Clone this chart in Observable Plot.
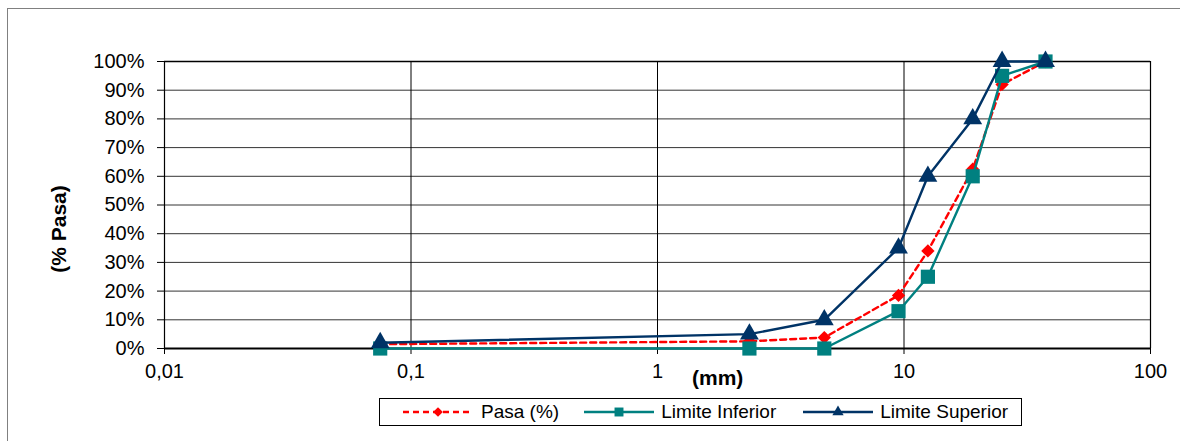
<!DOCTYPE html>
<html>
<head>
<meta charset="utf-8">
<script src="https://cdn.jsdelivr.net/npm/d3@7"></script>
<script src="https://cdn.jsdelivr.net/npm/@observablehq/plot@0.6"></script>
<style>
  html, body { margin: 0; padding: 0; background: #fff; }
  body { width: 1180px; height: 441px; position: relative; overflow: hidden; font-family: "Liberation Sans", Arial, sans-serif; }
  #frame { position: absolute; left: 7px; top: 8px; width: 1200px; height: 460px; border-left: 1.5px solid #808080; border-top: 1.5px solid #808080; box-sizing: border-box; }
  #chart { position: absolute; left: 0; top: 0; }
  .lbl { position: absolute; font-weight: bold; font-size: 21px; color: #000; white-space: nowrap; }
  #xlabel { left: 692px; top: 366px; }
  #ylabel { left: 59px; top: 229px; transform: translate(-50%, -50%) rotate(-90deg); }
  #legend { position: absolute; left: 379px; top: 398px; width: 643px; height: 28px; border: 1px solid #000; box-sizing: border-box; background: #fff; display: flex; align-items: center; font-size: 19px; }
  #legend .item { display: flex; align-items: center; }
  #legend svg { display: block; }
</style>
</head>
<body>
<div id="frame"></div>
<div id="chart"></div>
<div class="lbl" id="xlabel">(mm)</div>
<div class="lbl" id="ylabel">(% Pasa)</div>
<div id="legend"></div>
<script>
// Sieve sizes (mm)
const sieves = [0.075, 2.36, 4.75, 9.5, 12.5, 19, 25, 37.5];
// Series values (fraction passing)
const pasa = [0.015, 0.025, 0.038, 0.185, 0.34, 0.625, 0.92, 1.0];
const limiteInferior = [0, 0, 0, 0.13, 0.25, 0.60, 0.95, 1.0];
const limiteSuperior = [0.02, 0.05, 0.10, 0.35, 0.60, 0.80, 1.0, 1.0];
// Series names
const seriesNames = ["Pasa (%)", "Limite Inferior", "Limite Superior"];
// Axis ticks
const xTicks = [0.01, 0.1, 1, 10, 100];
const xTickLabels = ["0,01", "0,1", "1", "10", "100"];
const yTicks = [0, 0.1, 0.2, 0.3, 0.4, 0.5, 0.6, 0.7, 0.8, 0.9, 1.0];

const colors = { "Pasa (%)": "#ff0000", "Limite Inferior": "#008080", "Limite Superior": "#003366" };
const symbols = { "Pasa (%)": "diamond2", "Limite Inferior": "square", "Limite Superior": "triangle" };
const radii = { "Pasa (%)": 6, "Limite Inferior": 8, "Limite Superior": 7 };

const seriesValues = [pasa, limiteInferior, limiteSuperior];
const rows = seriesNames.map((name, k) => sieves.map((s, i) => ({ series: name, size: s, value: seriesValues[k][i] })));

const lineMarks = [];
rows.forEach((data, k) => {
  const name = seriesNames[k];
  lineMarks.push(Plot.line(data, {
    x: "size", y: "value", stroke: colors[name], strokeWidth: 2.4,
    strokeDasharray: name === "Pasa (%)" ? "6,4" : null
  }));
  lineMarks.push(Plot.dot(data, {
    x: "size", y: "value", symbol: () => symbols[name], r: radii[name],
    fill: colors[name], stroke: "none"
  }));
});

const xLabelOf = d => xTickLabels[xTicks.findIndex(t => Math.abs(t - d) < 1e-9)];

const chart = Plot.plot({
  width: 1180,
  height: 441,
  marginLeft: 164,
  marginRight: 30,
  marginTop: 61,
  marginBottom: 93,
  style: { fontFamily: "'Liberation Sans', Arial, sans-serif", fontSize: "20px", color: "#000", background: "transparent" },
  symbol: { type: "identity" },
  x: { type: "log", domain: [0.01, 100] },
  y: { domain: [0, 1] },
  marks: [
    Plot.gridY(yTicks, { stroke: "#111", strokeOpacity: 0.85, strokeWidth: 1 }),
    Plot.gridX(xTicks, { stroke: "#000", strokeOpacity: 1, strokeWidth: 1 }),
    Plot.ruleX([xTicks[0]], { stroke: "#000", strokeWidth: 1.2 }),
    Plot.ruleX([xTicks[xTicks.length - 1]], { stroke: "#000", strokeWidth: 1.2 }),
    Plot.ruleY([yTicks[yTicks.length - 1]], { stroke: "#000", strokeWidth: 1.5 }),
    Plot.ruleY([yTicks[0]], { stroke: "#000", strokeWidth: 2 }),
    Plot.axisX({ ticks: xTicks, tickSize: 6, tickPadding: 9, tickFormat: xLabelOf, label: null, fontSize: 20, stroke: "#000" }),
    Plot.axisY(yTicks, { tickSize: 7, tickPadding: 13, tickFormat: d3.format(".0%"), label: null, fontSize: 20, stroke: "#000" }),
    ...lineMarks
  ]
});
document.getElementById("chart").appendChild(chart);

// Legend
const legend = document.getElementById("legend");
const legendLayout = [
  { name: seriesNames[0], pad: 23, gap: 8 },
  { name: seriesNames[1], pad: 25, gap: 7 },
  { name: seriesNames[2], pad: 27, gap: 7 }
];
legendLayout.forEach(({ name, pad, gap }) => {
  const item = document.createElement("div");
  item.className = "item";
  item.style.marginLeft = pad + "px";
  const w = 70, h = 20;
  const svg = d3.create("svg").attr("width", w).attr("height", h);
  svg.append("line").attr("x1", 0).attr("x2", w).attr("y1", h / 2).attr("y2", h / 2)
    .attr("stroke", colors[name]).attr("stroke-width", 2.4)
    .attr("stroke-dasharray", name === "Pasa (%)" ? "6,4" : null);
  const symMap = { diamond2: d3.symbolDiamond2, square: d3.symbolSquare, triangle: d3.symbolTriangle };
  const size = { "Pasa (%)": 60, "Limite Inferior": 80, "Limite Superior": 55 }[name];
  svg.append("path").attr("d", d3.symbol(symMap[symbols[name]], size)())
    .attr("transform", `translate(${w / 2},${h / 2})`).attr("fill", colors[name]);
  item.appendChild(svg.node());
  const t = document.createElement("span");
  t.textContent = name;
  t.style.marginLeft = gap + "px";
  item.appendChild(t);
  legend.appendChild(item);
});
</script>
</body>
</html>
